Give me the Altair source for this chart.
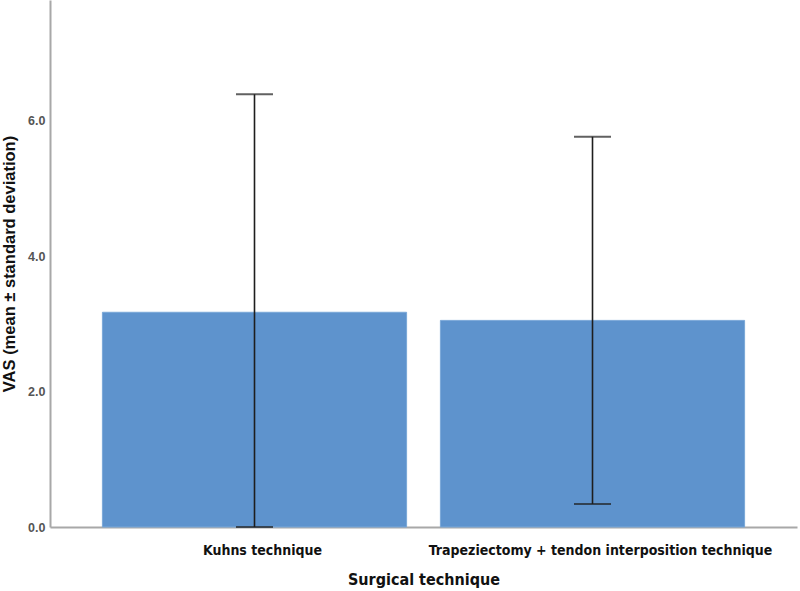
import altair as alt
import pandas as pd

# Mean VAS per surgical technique with standard-deviation whiskers
techniques = ["Kuhns technique", "Trapeziectomy + tendon interposition technique"]
vas_mean = [3.17, 3.05]
vas_lower = [0.0, 0.34]
vas_upper = [6.39, 5.76]
y_ticks = [0, 2, 4, 6]

df = pd.DataFrame({
    "technique": techniques,
    "mean": vas_mean,
    "lower": vas_lower,
    "upper": vas_upper,
})

narrow = "DejaVu Sans Condensed, Liberation Sans, sans-serif"

x_enc = alt.X(
    "technique:N",
    sort=techniques,
    title="Surgical technique",
    scale=alt.Scale(paddingInner=0.1, paddingOuter=0.155),
    axis=alt.Axis(
        labelAngle=0,
        labelFont=narrow,
        labelFontSize=14,
        labelFontWeight="bold",
        labelColor="#111111",
        labelPadding=16,
        labelOffset=8,
        labelLimit=500,
        ticks=False,
        domainColor="#a8a8a8",
        domainWidth=2,
        titleFont=narrow,
        titleFontSize=16,
        titleFontWeight="bold",
        titleColor="#111111",
        titlePadding=14,
    ),
)

y_scale = alt.Scale(domain=[0, 7.78], nice=False, zero=True)
y_axis = alt.Axis(
    values=y_ticks,
    format=".1f",
    labelFont="Liberation Sans",
    labelFontSize=12.5,
    labelFontWeight="bold",
    labelColor="#555555",
    labelPadding=5,
    ticks=False,
    grid=False,
    domainColor="#a8a8a8",
    domainWidth=2,
    title="VAS (mean ± standard deviation)",
    titleFont="Liberation Sans",
    titleFontSize=16.5,
    titleFontWeight="bold",
    titleColor="#111111",
    titlePadding=10,
)

base = alt.Chart(df)

bars = base.mark_bar(color="#5e93cd", stroke="#7aa8d8", strokeWidth=1).encode(
    x=x_enc,
    y=alt.Y("mean:Q", scale=y_scale, axis=y_axis),
)

whisker = base.mark_rule(color="#1e1e1e", strokeWidth=1.6).encode(
    x=alt.X("technique:N", sort=techniques),
    y=alt.Y("lower:Q"),
    y2="upper:Q",
)

cap_low = base.mark_tick(color="#1e1e1e", thickness=2, size=37, orient="horizontal").encode(
    x=alt.X("technique:N", sort=techniques),
    y=alt.Y("lower:Q"),
)

cap_high = base.mark_tick(color="#1e1e1e", thickness=2, size=37, orient="horizontal").encode(
    x=alt.X("technique:N", sort=techniques),
    y=alt.Y("upper:Q"),
)

chart = (
    alt.layer(bars, whisker, cap_low, cap_high)
    .properties(
        width=747,
        height=527,
        autosize=alt.AutoSizeParams(type="none"),
        padding={"left": 50, "top": 0, "right": 3, "bottom": 64},
        background="white",
    )
    .configure_view(stroke=None)
)

chart.save("out.html", embed_options={"renderer": "svg", "actions": False})
